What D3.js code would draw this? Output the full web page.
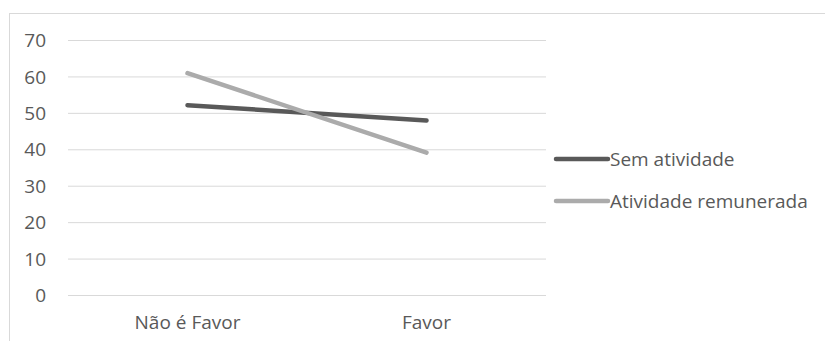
<!DOCTYPE html>
<html>
<head>
<meta charset="utf-8">
<script src="https://cdn.jsdelivr.net/npm/d3@7/dist/d3.min.js"></script>
<style>
  html, body { margin: 0; padding: 0; background: #fff; }
  svg { display: block; }
  text { font-family: "Open Sans", sans-serif; fill: #595959; }
</style>
</head>
<body>
<svg id="chart" width="825" height="341"></svg>
<script>
// Categories and series
const categories = ["Não é Favor", "Favor"];
const semAtividade = [52.1, 47.9];
const atividadeRemunerada = [60.9, 39.1];
const seriesNames = ["Sem atividade", "Atividade remunerada"];
const yTicks = [0, 10, 20, 30, 40, 50, 60, 70];

const series = [
  { name: seriesNames[0], values: semAtividade, color: "#595959" },
  { name: seriesNames[1], values: atividadeRemunerada, color: "#ababab" }
];

const FONT = "19px";
const svg = d3.select("#chart");

// Chart frame
svg.append("rect")
  .attr("x", 9.5).attr("y", 13.5)
  .attr("width", 840).attr("height", 360)
  .attr("fill", "none")
  .attr("stroke", "#d9d9d9")
  .attr("stroke-width", 1);

const plot = { left: 68, right: 546, top: 40, bottom: 295 };

const x = d3.scaleBand()
  .domain(categories)
  .range([plot.left, plot.right]);

const y = d3.scaleLinear()
  .domain([0, 70])
  .range([plot.bottom, plot.top]);

// Gridlines
svg.append("g")
  .selectAll("line")
  .data(yTicks)
  .join("line")
  .attr("x1", plot.left).attr("x2", plot.right)
  .attr("y1", d => y(d) + 0.5).attr("y2", d => y(d) + 0.5)
  .attr("stroke", "#d9d9d9")
  .attr("stroke-width", 1);

// Y axis labels
const yAxis = d3.axisLeft(y).tickValues(yTicks).tickSize(0).tickPadding(0);
const gy = svg.append("g")
  .attr("transform", `translate(${46},0)`)
  .call(yAxis)
  .attr("font-size", null)
  .attr("font-family", null);
gy.select(".domain").remove();
gy.selectAll("text")
  .style("font-size", FONT)
  .attr("fill", "#595959")
  .attr("dy", "0.35em");

// X axis labels
const xAxis = d3.axisBottom(x).tickSize(0).tickPadding(0);
const gx = svg.append("g")
  .attr("transform", `translate(0,${plot.bottom + 20})`)
  .call(xAxis)
  .attr("font-size", null)
  .attr("font-family", null);
gx.select(".domain").remove();
gx.selectAll("text")
  .style("font-size", FONT)
  .attr("fill", "#595959");

// Lines
const line = d3.line()
  .x((d, i) => x(categories[i]) + x.bandwidth() / 2)
  .y(d => y(d));

svg.append("g")
  .selectAll("path")
  .data(series)
  .join("path")
  .attr("d", d => line(d.values))
  .attr("fill", "none")
  .attr("stroke", d => d.color)
  .attr("stroke-width", 4.5)
  .attr("stroke-linecap", "round");

// Legend
const legend = svg.append("g")
  .selectAll("g")
  .data(series)
  .join("g")
  .attr("transform", (d, i) => `translate(556,${159 + i * 42})`);

legend.append("line")
  .attr("x1", 0).attr("x2", 52)
  .attr("y1", 0).attr("y2", 0)
  .attr("stroke", d => d.color)
  .attr("stroke-width", 4.5)
  .attr("stroke-linecap", "round");

legend.append("text")
  .attr("x", 54)
  .attr("dy", "0.35em")
  .style("font-size", FONT)
  .text(d => d.name);
</script>
</body>
</html>
